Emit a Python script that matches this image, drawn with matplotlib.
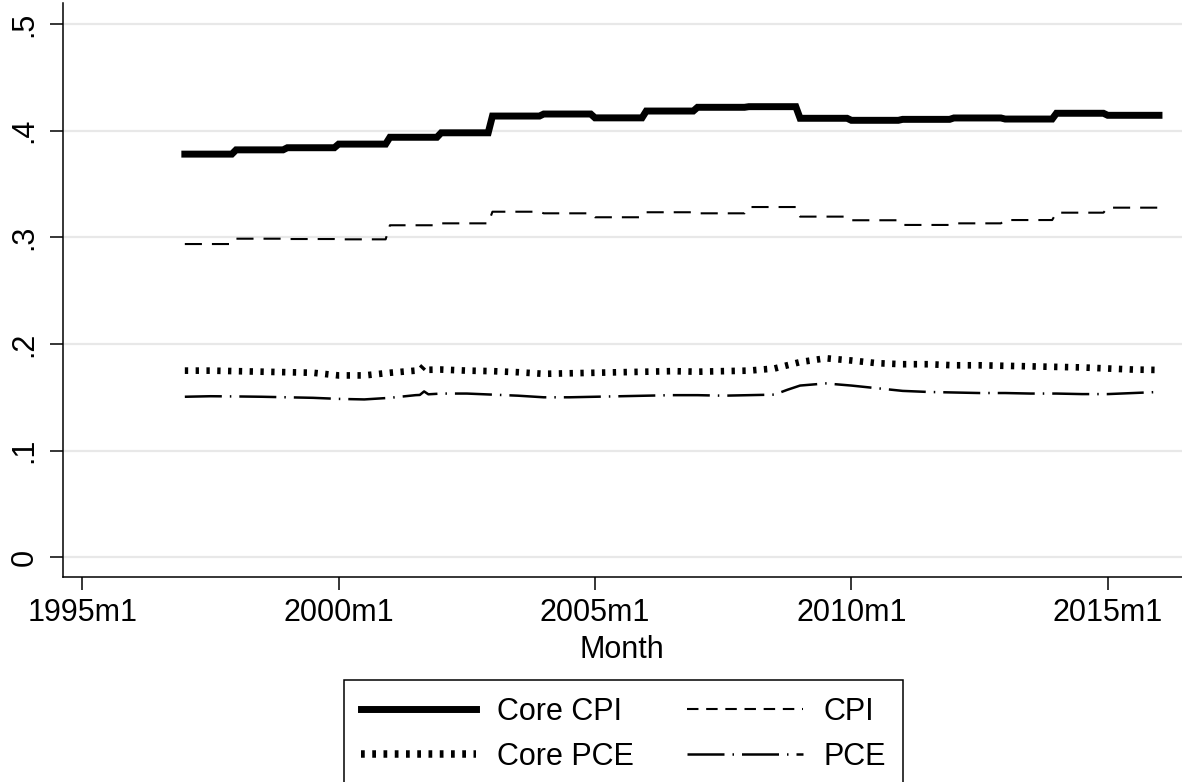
import matplotlib
matplotlib.use('Agg')
import matplotlib.pyplot as plt
from matplotlib.lines import Line2D

plt.rcParams['font.family'] = ['Liberation Sans', 'DejaVu Sans']

# yearly levels (flat within each calendar year)
STEP_YEARS = list(range(1997, 2016))
CORE_CPI = [0.378, 0.382, 0.384, 0.3874, 0.3938, 0.398, 0.4137, 0.4156, 0.412,
            0.4184, 0.4219, 0.4225, 0.4116, 0.4097, 0.4106, 0.4119, 0.4109,
            0.4163, 0.4144]
CPI = [0.2937, 0.2987, 0.2984, 0.2981, 0.3113, 0.3131, 0.324, 0.3225, 0.3188,
       0.3235, 0.3225, 0.3284, 0.3194, 0.316, 0.3116, 0.3131, 0.3162, 0.3231,
       0.3278]
LAST_MONTH = '2016m1'

# PCE series, read at roughly half-year points
PCE_DATES = ['1997m1', '1997m7', '1998m1', '1998m7', '1999m1', '1999m7',
             '2000m1', '2000m7', '2001m1', '2001m7', '2001m8', '2001m9',
             '2001m10', '2002m1', '2002m7', '2003m1', '2003m7', '2004m1',
             '2004m7', '2005m1', '2005m7', '2006m1', '2006m7', '2007m1',
             '2007m7', '2008m1', '2008m7', '2008m10', '2009m1', '2009m7',
             '2010m1', '2010m7', '2011m1', '2011m7', '2012m1', '2012m7',
             '2013m1', '2013m7', '2014m1', '2014m7', '2015m1', '2015m7',
             '2016m1']
CORE_PCE = [0.175, 0.175, 0.1745, 0.174, 0.1735, 0.173,
            0.1705, 0.1705, 0.173, 0.175, 0.1752, 0.1795,
            0.1758, 0.176, 0.175, 0.1745, 0.1735, 0.172,
            0.1725, 0.173, 0.1735, 0.174, 0.1745, 0.174,
            0.1745, 0.175, 0.177, 0.180, 0.183, 0.1866,
            0.1845, 0.182, 0.181, 0.181, 0.180, 0.180,
            0.1795, 0.179, 0.1785, 0.178, 0.177, 0.176,
            0.1756]
PCE = [0.1505, 0.151, 0.1508, 0.1505, 0.150, 0.1495,
       0.1485, 0.148, 0.1495, 0.152, 0.1522, 0.1555,
       0.1528, 0.1535, 0.1535, 0.1525, 0.1515, 0.150,
       0.150, 0.1505, 0.151, 0.1515, 0.152, 0.152,
       0.1515, 0.152, 0.1525, 0.157, 0.161, 0.163,
       0.161, 0.1585, 0.156, 0.155, 0.1545, 0.154,
       0.154, 0.1535, 0.1535, 0.153, 0.153, 0.154,
       0.155]

XTICKS = ['1995m1', '2000m1', '2005m1', '2010m1', '2015m1']
YTICKS = [0, 0.1, 0.2, 0.3, 0.4, 0.5]
YTICK_LABELS = ['0', '.1', '.2', '.3', '.4', '.5']


def month_pos(label):
    y, m = label.split('m')
    return int(y) + (int(m) - 1) / 12


def step_points(years, values, last):
    xs, ys = [], []
    for yr, v in zip(years, values):
        xs += [yr, yr + 11 / 12]
        ys += [v, v]
    xs.append(month_pos(last))
    ys.append(values[-1])
    return xs, ys


fig = plt.figure(figsize=(11.82, 7.82), dpi=100)
ax = fig.add_axes([62.5 / 1182, 205 / 782, 1 - 62.5 / 1182, 574 / 782])

pce_x = [month_pos(d) for d in PCE_DATES]

x, y = step_points(STEP_YEARS, CORE_CPI, LAST_MONTH)
ax.plot(x, y, color='black', lw=5.0, solid_joinstyle='miter')
x, y = step_points(STEP_YEARS, CPI, LAST_MONTH)
ax.plot(x, y, color='black', lw=1.5, dashes=(8.2, 4.8))
ax.plot(pce_x, CORE_PCE, color='black', lw=4.8, dashes=(0.5, 1.12),
        dash_capstyle='butt')
ax.plot(pce_x, PCE, color='black', lw=1.8, dashes=(14.8, 3.2, 0.6, 3.2))

ax.set_xlim(1994.614, 2016.449)
ax.set_ylim(-0.0185, 0.5197)
ax.set_xticks([month_pos(t) for t in XTICKS])
ax.set_xticklabels(XTICKS)
ax.set_yticks(YTICKS)
ax.set_yticklabels(YTICK_LABELS, rotation=90, va='center')

ax.grid(axis='y', color='#e8e8e8', lw=1.6)
ax.set_axisbelow(True)
for side in ('top', 'right'):
    ax.spines[side].set_visible(False)
for side in ('left', 'bottom'):
    ax.spines[side].set_linewidth(1.1)
ax.tick_params(axis='both', length=9.4, width=1.1, labelsize=22)
ax.tick_params(axis='x', pad=5.5)
ax.tick_params(axis='y', pad=7)
ax.set_xlabel('Month', fontsize=22, labelpad=5.5)

handles = [
    Line2D([], [], color='black', lw=5.0),
    Line2D([], [], color='black', lw=5.4, dashes=(0.5, 1.0), dash_capstyle='butt'),
    Line2D([], [], color='black', lw=1.5, dashes=(5.5, 3.7)),
    Line2D([], [], color='black', lw=1.8, dashes=(14.8, 3.2, 0.6, 3.2)),
]
labels = ['Core CPI', 'Core PCE', 'CPI', 'PCE']
leg = fig.legend(handles, labels, ncol=2, loc='upper left',
                 bbox_to_anchor=(344 / 1182, 1 - 680 / 782),
                 bbox_transform=fig.transFigure, borderaxespad=0,
                 fontsize=22, frameon=True, fancybox=False, shadow=False,
                 edgecolor='black', framealpha=1, handlelength=3.78,
                 handletextpad=0.68, columnspacing=1.75, borderpad=0.55,
                 labelspacing=0.5)
leg.get_frame().set_linewidth(1.1)

fig.savefig('out.png', dpi=100)
